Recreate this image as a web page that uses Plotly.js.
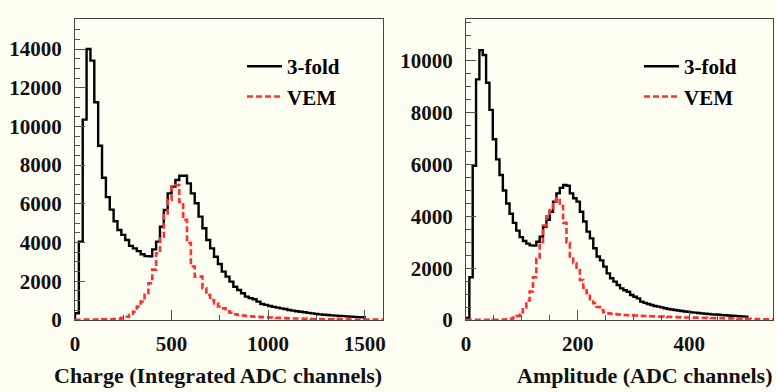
<!DOCTYPE html>
<html>
<head>
<meta charset="utf-8">
<script src="https://cdn.plot.ly/plotly-3.0.1.min.js"></script>
<style>
  html, body { margin: 0; padding: 0; background: #fffff4; }
  #chart { width: 776px; height: 392px; }
</style>
</head>
<body>
<div id="chart"></div>
<script>
// ---- Data ----
// Left panel: Charge (Integrated ADC channels), bin width 20
const chargeBinWidth = 20;
const chargeThreeFold = [
  350, 4050, 10350, 14000, 13400, 11250, 9000, 7350, 6350, 5700,
  5100, 4650, 4400, 4130, 3830, 3700, 3560, 3400, 3300, 3290,
  3650, 4050, 4820, 5680, 6540, 6890, 7230, 7450, 7450, 7060,
  6540, 6030, 5340, 4740, 4130, 3700, 3270, 2890, 2500, 2240,
  1980, 1720, 1550, 1380, 1210, 1130, 1070, 950, 830, 780,
  720, 680, 637, 600, 568, 520, 482, 455, 430, 400,
  370, 344, 315, 293, 270, 255, 240, 225, 210, 200,
  185, 172, 160, 150, 140
];
const chargeVEM = [
  15, 15, 20, 20, 20, 25, 25, 30, 35, 40,
  50, 70, 110, 170, 260, 430, 690, 950, 1380, 1900,
  2600, 3450, 4300, 5500, 6200, 6900, 6970, 6100, 5170, 3980,
  2760, 2240, 2240, 1640, 1290, 1030, 860, 700, 600, 450,
  380, 300, 260, 230, 210, 190, 175, 160, 150, 140,
  130, 120, 110, 100, 95, 86, 80, 75, 70, 62,
  56, 52, 48, 45, 42, 40, 38, 36, 34, 32,
  30, 28, 26, 25, 24, 22, 21, 20, 19, 18
];
// Right panel: Amplitude (ADC channels), bin width 6
const ampBinWidth = 6;
const ampThreeFold = [
  80, 1650, 5950, 9290, 10420, 10230, 9160, 8110, 6980, 6200,
  5600, 5000, 4500, 4100, 3750, 3450, 3200, 3050, 2950, 2880,
  2870, 3020, 3220, 3600, 3870, 4180, 4570, 4890, 5100, 5210,
  5180, 4890, 4700, 4570, 4180, 3800, 3410, 3150, 2770, 2450,
  2300, 2060, 1800, 1610, 1480, 1350, 1220, 1150, 1090, 965,
  900, 836, 708, 660, 618, 580, 541, 515, 489, 455,
  425, 405, 386, 365, 347, 330, 312, 296, 283, 270,
  257, 244, 231, 219, 210, 200, 190, 182, 174, 166,
  158, 150, 140, 130
];
const ampVEM = [
  5, 5, 5, 6, 6, 7, 8, 9, 10, 12,
  15, 20, 30, 50, 90, 150, 300, 480, 750, 1100,
  1650, 2350, 3000, 3650, 4000, 4300, 4600, 4700, 4400, 3750,
  2980, 2450, 2200, 1930, 1545, 1250, 1030, 800, 644, 500,
  386, 300, 257, 240, 225, 210, 200, 193, 185, 178,
  172, 166, 160, 155, 150, 145, 140, 135, 129, 124,
  119, 114, 110, 106, 102, 98, 95, 92, 90, 87,
  84, 81, 78, 75, 72, 69, 66, 64, 61, 58,
  55, 52, 49, 46, 43, 40, 37, 34, 31, 29,
  27, 26
];
const legendNames = ["3-fold", "VEM"];
const chargeTicks = [0, 500, 1000, 1500];
const ampTicks = [0, 200, 400];
const chargeYTicks = [0, 2000, 4000, 6000, 8000, 10000, 12000, 14000];
const ampYTicks = [0, 2000, 4000, 6000, 8000, 10000];

// ---- helpers: build a ROOT-like step outline from bin contents ----
function stepOutline(values, width) {
  const xs = [0, 0];
  const ys = [0, values[0]];
  for (let i = 1; i < values.length; i++) { xs.push(i * width); ys.push(values[i]); }
  xs.push(values.length * width); ys.push(0);
  return {x: xs, y: ys};
}

const FONT = 'Liberation Serif, Times New Roman, serif';
const BG = '#fffff4';
const BLACK = '#000000';
const RED = '#ff3030';

const c3 = stepOutline(chargeThreeFold, chargeBinWidth);
const cV = stepOutline(chargeVEM, chargeBinWidth);
const a3 = stepOutline(ampThreeFold, ampBinWidth);
const aV = stepOutline(ampVEM, ampBinWidth);

const traces = [
  {x: c3.x, y: c3.y, type: 'scatter', mode: 'lines', line: {shape: 'hv', color: BLACK, width: 2.4},
   name: legendNames[0], xaxis: 'x', yaxis: 'y', legend: 'legend'},
  {x: cV.x, y: cV.y, type: 'scatter', mode: 'lines', line: {shape: 'hv', color: RED, width: 2.6, dash: '6px,3px'},
   name: legendNames[1], xaxis: 'x', yaxis: 'y', legend: 'legend'},
  {x: a3.x, y: a3.y, type: 'scatter', mode: 'lines', line: {shape: 'hv', color: BLACK, width: 2.4},
   name: legendNames[0], xaxis: 'x2', yaxis: 'y2', legend: 'legend2'},
  {x: aV.x, y: aV.y, type: 'scatter', mode: 'lines', line: {shape: 'hv', color: RED, width: 2.6, dash: '6px,3px'},
   name: legendNames[1], xaxis: 'x2', yaxis: 'y2', legend: 'legend2'}
];

const W = 776;
const tickFont = {family: FONT, size: 21, color: '#111', weight: 'bold'};
function xaxisCfg(domain, range, ticks, minorStep) {
  return {
    domain: domain, range: range, tickvals: ticks, ticktext: ticks.map(String),
    showgrid: false, zeroline: false, showline: true, mirror: true, linecolor: '#444', linewidth: 1,
    ticks: 'inside', ticklen: 10, tickcolor: '#555', tickwidth: 1,
    minor: {dtick: minorStep, ticks: 'inside', ticklen: 5, tickcolor: '#555', tickwidth: 1, showgrid: false},
    tickfont: tickFont, ticklabelstandoff: 5, fixedrange: true
  };
}
function yaxisCfg(range, ticks, minorStep, anchor) {
  return {
    domain: [0, 1], range: range, tickvals: ticks, ticktext: ticks.map(String), anchor: anchor,
    showgrid: false, zeroline: false, showline: true, mirror: true, linecolor: '#444', linewidth: 1,
    ticks: 'inside', ticklen: 10, tickcolor: '#555', tickwidth: 1,
    minor: {dtick: minorStep, tick0: 0, ticks: 'inside', ticklen: 5, tickcolor: '#555', tickwidth: 1, showgrid: false},
    tickfont: tickFont, ticklabelstandoff: 8, fixedrange: true
  };
}

const legendFont = {family: FONT, size: 21, color: '#000', weight: 'bold'};
const layout = {
  width: 776, height: 392,
  margin: {l: 0, r: 0, t: 19, b: 72},
  paper_bgcolor: BG, plot_bgcolor: BG,
  showlegend: true,
  xaxis: Object.assign(xaxisCfg([75 / W, 383 / W], [0, 1595], chargeTicks, 250), {anchor: 'y'}),
  yaxis: yaxisCfg([0, 15550], chargeYTicks, 500, 'x'),
  xaxis2: Object.assign(xaxisCfg([466 / W, 773 / W], [0, 550], ampTicks, 50), {anchor: 'y2'}),
  yaxis2: yaxisCfg([0, 11620], ampYTicks, 500, 'x2'),
  legend: {x: 242 / W, y: 0.91, xanchor: 'left', yanchor: 'top', bgcolor: 'rgba(0,0,0,0)',
           font: legendFont, itemwidth: 35, tracegroupgap: 0},
  legend2: {x: 639 / W, y: 0.91, xanchor: 'left', yanchor: 'top', bgcolor: 'rgba(0,0,0,0)',
            font: legendFont, itemwidth: 35, tracegroupgap: 0},
  annotations: [
    {text: 'Charge (Integrated ADC channels)', xref: 'paper', yref: 'paper', x: 384 / W, y: (320 - 375) / 301,
     xanchor: 'right', yanchor: 'middle', showarrow: false, font: {family: FONT, size: 22, color: '#111', weight: 'bold'}},
    {text: 'Amplitude (ADC channels)', xref: 'paper', yref: 'paper', x: 774 / W, y: (320 - 375) / 301,
     xanchor: 'right', yanchor: 'middle', showarrow: false, font: {family: FONT, size: 22, color: '#111', weight: 'bold'}}
  ]
};

Plotly.newPlot('chart', traces, layout, {displayModeBar: false, staticPlot: true});
</script>
</body>
</html>
